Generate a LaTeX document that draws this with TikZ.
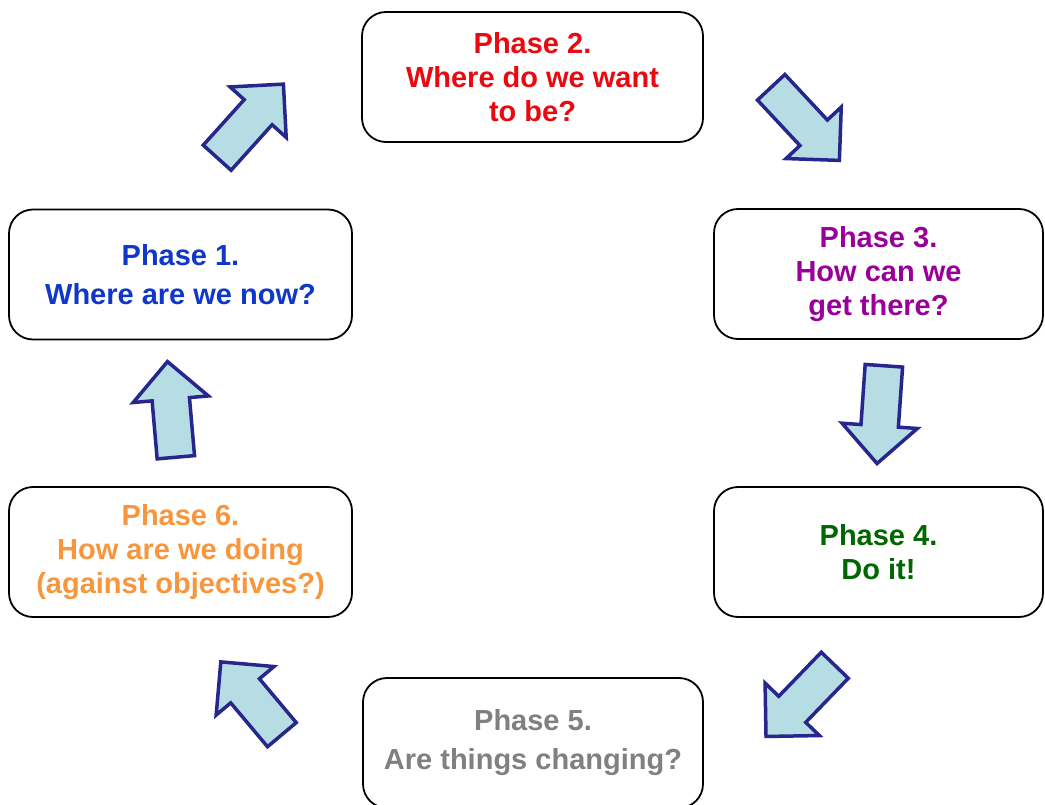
\documentclass[tikz,border=0pt]{standalone}
\usepackage{fontspec}
\setmainfont{Liberation Sans}
\usetikzlibrary{shapes.arrows}
\definecolor{arrowfill}{RGB}{183,221,228}
\definecolor{arrowedge}{RGB}{38,38,140}
\definecolor{pone}{RGB}{16,56,200}
\definecolor{ptwo}{RGB}{232,10,16}
\definecolor{pthree}{RGB}{153,0,153}
\definecolor{pfour}{RGB}{0,102,0}
\definecolor{pfive}{RGB}{128,128,128}
\definecolor{psix}{RGB}{247,150,60}
\begin{document}
\begin{tikzpicture}[x=1pt,y=-1pt,
  phasebox/.style={draw=black, line width=1.8pt, rounded corners=24pt,
    minimum height=130pt, align=center, inner sep=0pt,
    font=\fontsize{29}{34}\selectfont\bfseries},
  widebox/.style={phasebox, font=\fontsize{29}{39}\selectfont\bfseries},
  blockarrow/.style={single arrow, draw=arrowedge, fill=arrowfill,
    line width=3.5pt, inner xsep=0pt, inner ysep=17pt,
    single arrow head extend=19pt, anchor=tail, line join=miter}]
\useasboundingbox (0,0) rectangle (1045,805);
\clip (0,0) rectangle (1045,805);
\fill[white] (0,0) rectangle (1045,805);

\node[widebox, minimum width=343pt, text=pone] (p1) at (180.5,274.5) {Phase 1.\\Where are we now?};
\node[phasebox, minimum width=341pt, text=ptwo] (p2) at (532.5,77) {Phase 2.\\Where do we want\\to be?};
\node[phasebox, minimum width=329pt, text=pthree] (p3) at (878.5,274) {Phase 3.\\How can we\\get there?};
\node[phasebox, minimum width=329pt, text=pfour] (p4) at (878.5,552) {Phase 4.\\Do it!};
\node[widebox, minimum width=340pt, text=pfive] (p5) at (533,743) {Phase 5.\\Are things changing?};
\node[phasebox, minimum width=343pt, text=psix] (p6) at (180.5,552) {Phase 6.\\How are we doing\\(against objectives?)};

\node[blockarrow, minimum height=99pt, rotate=48] (a12) at (216,159) {};
\node[blockarrow, minimum height=100pt, rotate=-47] (a23) at (770,86) {};
\node[blockarrow, minimum height=98pt, rotate=-94] (a34) at (884,364) {};
\node[blockarrow, minimum height=99pt, rotate=-134] (a45) at (836,664) {};
\node[blockarrow, minimum height=95pt, rotate=130] (a56) at (283,736) {};
\node[blockarrow, minimum height=96pt, rotate=95] (a61) at (176,459) {};
\end{tikzpicture}
\end{document}
